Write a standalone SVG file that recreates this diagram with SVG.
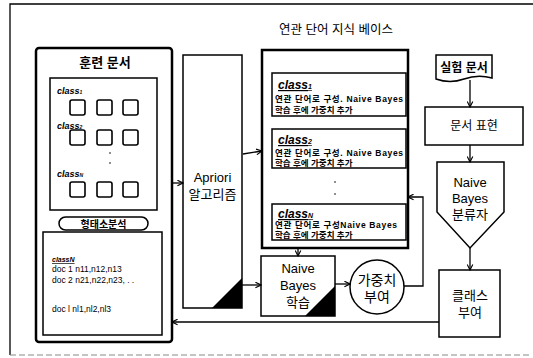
<svg xmlns="http://www.w3.org/2000/svg" width="533" height="358" viewBox="0 0 533 358">
<defs>
<style>
.k{font-family:"Liberation Sans","Noto Sans CJK KR",sans-serif;fill:#000}
.b{stroke:#000;fill:#fff;stroke-width:1.5}
.t{stroke:#000;fill:#fff;stroke-width:2.5}
.ln{stroke:#000;fill:none;stroke-width:1.3}
.cls{font-family:"Liberation Sans",sans-serif;font-style:italic;font-weight:bold;text-decoration:underline}
.sq{stroke:#000;fill:#fff;stroke-width:1.6}
</style>
<marker id="ar" viewBox="0 0 10 10" refX="9" refY="5" markerWidth="7" markerHeight="7" orient="auto" markerUnits="userSpaceOnUse">
<path d="M1,1 L9,5 L1,9" fill="none" stroke="#000" stroke-width="1.6"/>
</marker>
</defs>
<rect width="533" height="358" fill="#fff"/>
<g id="frame">
<path d="M10,355 L10,4 L533,4" class="ln" stroke-width="1.5"/>
<path d="M10,355 L530,355" stroke="#888" stroke-width="1" stroke-dasharray="6,3" fill="none"/>
</g>
<g id="train">
<rect x="36" y="48" width="136" height="294" rx="3" class="t"/>
<text x="105" y="67" class="k" font-size="13" font-weight="bold" text-anchor="middle">훈련 문서</text>
<rect x="50" y="78" width="107" height="132" class="b"/>
<text x="57" y="94" class="k" font-size="9" font-style="italic" font-weight="bold">class<tspan font-size="5">1</tspan></text>
<rect x="70" y="100" width="15" height="15" rx="2" class="sq"/>
<rect x="97" y="100" width="15" height="15" rx="2" class="sq"/>
<rect x="123" y="100" width="15" height="15" rx="2" class="sq"/>
<text x="57" y="129" class="k" font-size="9" font-style="italic" font-weight="bold">class<tspan font-size="5">2</tspan></text>
<rect x="70" y="130" width="15" height="15" rx="2" class="sq"/>
<rect x="97" y="130" width="15" height="15" rx="2" class="sq"/>
<rect x="123" y="130" width="15" height="15" rx="2" class="sq"/>
<circle cx="110" cy="153" r="0.8" fill="#000"/>
<circle cx="110" cy="163" r="0.8" fill="#000"/>
<text x="57" y="177" class="k" font-size="9" font-style="italic" font-weight="bold">class<tspan font-size="5">N</tspan></text>
<rect x="70" y="182" width="15" height="15" rx="2" class="sq"/>
<rect x="97" y="182" width="15" height="15" rx="2" class="sq"/>
<rect x="123" y="182" width="15" height="15" rx="2" class="sq"/>
<rect x="59" y="217" width="89" height="13" rx="6.5" class="b"/>
<text x="103.5" y="227.5" class="k" font-size="10" font-weight="bold" text-anchor="middle">형태소분석</text>
<rect x="43" y="232" width="119" height="103" class="b"/>
<text x="52" y="262" class="k cls" font-size="7">classN</text>
<text x="52" y="272" class="k" font-size="8.5">doc 1 n11,n12,n13</text>
<text x="52" y="283" class="k" font-size="8.5">doc 2 n21,n22,n23, . .</text>
<text x="52" y="312" class="k" font-size="8.5">doc l nl1,nl2,nl3</text>
</g>
<g id="apriori">
<rect x="183" y="55" width="59" height="253" class="b"/>
<path d="M242,278 L242,308 L212,308 Z" fill="#000"/>
<text x="212.5" y="182" class="k" font-size="13" text-anchor="middle">Apriori</text>
<text x="212.5" y="199" class="k" font-size="13" text-anchor="middle">알고리즘</text>
</g>
<g id="kb">
<text x="336" y="34" class="k" font-size="12.5" text-anchor="middle">연관 단어 지식 베이스</text>
<rect x="262" y="50" width="146" height="198" class="t"/>
<rect x="272" y="73" width="134" height="43" class="b"/>
<text x="278" y="89" class="k cls" font-size="12">class<tspan font-size="7">1</tspan></text>
<text x="275" y="102" class="k" font-size="8.5" font-weight="bold" textLength="128" lengthAdjust="spacing">연관 단어로 구성. Naive  Bayes</text>
<text x="275" y="113" class="k" font-size="8.5" font-weight="bold">학습 후에 가중치 추가</text>
<rect x="272" y="129" width="134" height="39" class="b"/>
<text x="278" y="144" class="k cls" font-size="12">class<tspan font-size="7">2</tspan></text>
<text x="275" y="156" class="k" font-size="8.5" font-weight="bold" textLength="128" lengthAdjust="spacing">연관 단어로 구성. Naive Bayes</text>
<text x="275" y="166" class="k" font-size="8.5" font-weight="bold">학습 후에 가중치 추가</text>
<circle cx="335" cy="182" r="0.8" fill="#000"/>
<circle cx="335" cy="194" r="0.8" fill="#000"/>
<rect x="272" y="204" width="134" height="36" class="b"/>
<text x="278" y="218" class="k cls" font-size="12">class<tspan font-size="7">N</tspan></text>
<text x="275" y="228" class="k" font-size="8.5" font-weight="bold" textLength="122" lengthAdjust="spacing">연관 단어로 구성Naive Bayes</text>
<text x="275" y="238" class="k" font-size="8.5" font-weight="bold">학습 후에 가중치 추가</text>
</g>
<g id="nbtrain">
<rect x="261" y="256" width="74" height="60" class="b"/>
<path d="M335,286 L335,316 L305,316 Z" fill="#000"/>
<text x="298" y="273" class="k" font-size="13" text-anchor="middle">Naive</text>
<text x="298" y="290" class="k" font-size="13" text-anchor="middle">Bayes</text>
<text x="298" y="307" class="k" font-size="13" text-anchor="middle">학습</text>
</g>
<g id="weight">
<circle cx="377" cy="287" r="27" class="b"/>
<text x="377" y="285" class="k" font-size="14" text-anchor="middle">가중치</text>
<text x="377" y="302" class="k" font-size="14" text-anchor="middle">부여</text>
</g>
<g id="testdoc">
<path d="M436,55 L492,55 L492,78 Q478,74 464,79 Q450,84 436,79 Z" class="b"/>
<text x="464" y="72" class="k" font-size="12" font-weight="bold" text-anchor="middle">실험 문서</text>
</g>
<g id="docrep">
<rect x="425" y="107" width="98" height="38" class="b"/>
<text x="474" y="130" class="k" font-size="12" text-anchor="middle">문서 표현</text>
</g>
<g id="classifier">
<path d="M437,162 L504,162 L504,212 L470,248 L437,212 Z" class="b"/>
<text x="470" y="187" class="k" font-size="13" text-anchor="middle">Naive</text>
<text x="470" y="203" class="k" font-size="13" text-anchor="middle">Bayes</text>
<text x="470" y="219" class="k" font-size="13" text-anchor="middle">분류자</text>
</g>
<g id="assign">
<rect x="439" y="270" width="61" height="67" class="b"/>
<text x="470" y="300" class="k" font-size="13" text-anchor="middle">클래스</text>
<text x="470" y="317" class="k" font-size="13" text-anchor="middle">부여</text>
</g>
<g id="connectors" class="ln">
<line x1="172" y1="183" x2="183" y2="183" marker-end="url(#ar)"/>
<line x1="243" y1="154" x2="262" y2="151" marker-end="url(#ar)"/>
<line x1="242" y1="285" x2="261" y2="285" marker-end="url(#ar)"/>
<line x1="298" y1="248" x2="298" y2="256" marker-end="url(#ar)"/>
<line x1="335" y1="284" x2="350" y2="284" marker-end="url(#ar)"/>
<path d="M404,286 L423,286 L423,197 L408,197" marker-end="url(#ar)"/>
<line x1="470" y1="80" x2="470" y2="107" marker-end="url(#ar)"/>
<line x1="470" y1="145" x2="470" y2="162" marker-end="url(#ar)"/>
<line x1="470" y1="248" x2="470" y2="270" marker-end="url(#ar)"/>
<line x1="439" y1="322" x2="172" y2="322" marker-end="url(#ar)"/>
</g>
</svg>
